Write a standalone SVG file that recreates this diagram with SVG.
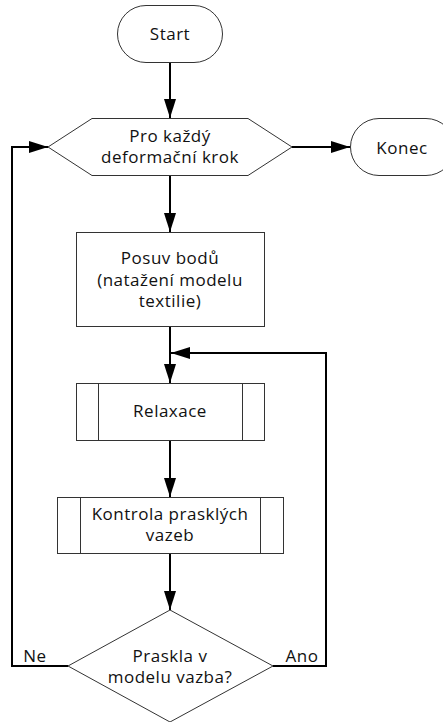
<svg xmlns="http://www.w3.org/2000/svg" width="443" height="722" viewBox="0 0 443 722">
<style>
.s{fill:#fff;stroke:#333;stroke-width:1}
.c{fill:none;stroke:#000;stroke-width:2}
text{font-family:"Open Sans","Noto Sans",sans-serif;font-size:17px;letter-spacing:0.5px;fill:#111;text-anchor:middle}
</style>
<defs>
<marker id="a" viewBox="0 0 19 12" refX="19" refY="6" markerWidth="19" markerHeight="12" markerUnits="userSpaceOnUse" orient="auto">
<path d="M0,0 L19,6 L0,12 Z" fill="#000"/>
</marker>
</defs>
<rect width="443" height="722" fill="#fff"/>
<g id="connectors">
<path class="c" d="M170,62 V118" marker-end="url(#a)"/>
<path class="c" d="M292,147 H350" marker-end="url(#a)"/>
<path class="c" d="M170,176 V232" marker-end="url(#a)"/>
<path class="c" d="M170,327 V383" marker-end="url(#a)"/>
<path class="c" d="M170,440 V497" marker-end="url(#a)"/>
<path class="c" d="M170,553 V610" marker-end="url(#a)"/>
<path class="c" d="M68,666 H12 V147 H48" marker-end="url(#a)"/>
<path class="c" d="M273,666 H326 V353 H171" marker-end="url(#a)"/>
<text x="35" y="662">Ne</text>
<text x="302" y="662">Ano</text>
</g>
<g id="start">
<rect class="s" x="117.5" y="5.5" width="105" height="57" rx="28.5"/>
<text x="170" y="40">Start</text>
</g>
<g id="loop">
<polygon class="s" points="48,147 92,118.5 248,118.5 292,147 248,175.5 92,175.5"/>
<text x="170" y="142">Pro každý</text>
<text x="170" y="163">deformační krok</text>
</g>
<g id="konec">
<rect class="s" x="350.5" y="118.5" width="104" height="57" rx="28.5"/>
<text x="402" y="154">Konec</text>
</g>
<g id="posuv">
<rect class="s" x="76.5" y="232.5" width="188" height="94"/>
<text x="170" y="264">Posuv bodů</text>
<text x="170" y="285.5">(natažení modelu</text>
<text x="170" y="307">textilie)</text>
</g>
<g id="relaxace">
<rect class="s" x="76.5" y="383.5" width="188" height="57"/>
<path class="s" d="M98.5,383.5 V440.5 M242.5,383.5 V440.5"/>
<text x="170" y="417">Relaxace</text>
</g>
<g id="kontrola">
<rect class="s" x="57.5" y="497.5" width="226" height="56"/>
<path class="s" d="M80.5,497.5 V553.5 M260.5,497.5 V553.5"/>
<text x="170" y="520">Kontrola prasklých</text>
<text x="170" y="541">vazeb</text>
</g>
<g id="praskla">
<polygon class="s" points="170,610 273,666 170,722 68,666"/>
<text x="170" y="662">Praskla v</text>
<text x="170" y="683">modelu vazba?</text>
</g>
</svg>
